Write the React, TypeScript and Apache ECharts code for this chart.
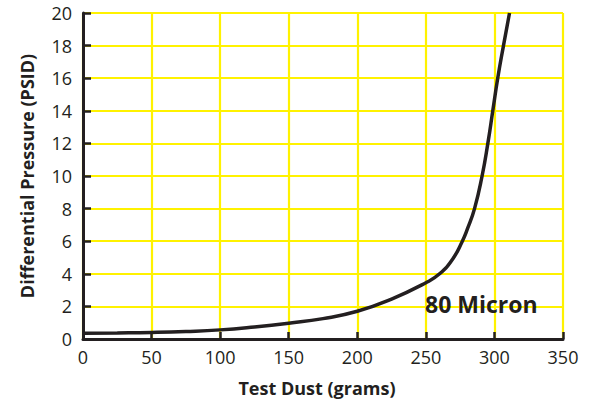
import React, { useEffect, useRef } from "react";
import * as echarts from "echarts";

const dustGrams = [0, 25, 50, 75, 100, 125, 150, 175, 200, 225, 250, 260, 269.5, 276.6, 280.3, 285.5, 291, 295.2, 298.8, 302.4, 306.6, 311];
const pressurePsid = [0.35, 0.37, 0.4, 0.46, 0.56, 0.74, 0.97, 1.25, 1.7, 2.45, 3.45, 4.0, 4.9, 6.0, 6.75, 8.0, 10.0, 12.0, 14.0, 16.0, 18.0, 20.0];
const seriesLabel = "80 Micron";
const xAxisTitle = "Test Dust (grams)";
const yAxisTitle = "Differential Pressure (PSID)";

const INK = "#231f20";
const GRID_YELLOW = "#fff200";
const FONT = "'Open Sans', 'Noto Sans', sans-serif";

export default function App() {
  const ref = useRef<HTMLDivElement>(null);

  useEffect(() => {
    if (!ref.current) return;
    const chart = echarts.init(ref.current, undefined, { renderer: "svg" });
    const points = dustGrams.map((x, i) => [x, pressurePsid[i]]);
    chart.setOption({
      animation: false,
      backgroundColor: "#ffffff",
      grid: { left: 83, right: 27, top: 13, bottom: 62, containLabel: false },
      xAxis: {
        type: "value",
        min: 0,
        max: 350,
        interval: 50,
        name: xAxisTitle,
        nameLocation: "middle",
        nameGap: 40,
        nameTextStyle: { color: INK, fontFamily: FONT, fontWeight: "bold", fontSize: 18, padding: [0, 12, 0, 0] },
        axisLine: { show: true, onZero: false, lineStyle: { color: INK, width: 3 } },
        axisTick: { show: true, inside: true, length: 7, lineStyle: { color: INK, width: 2.5 } },
        axisLabel: { color: INK, fontFamily: FONT, fontSize: 18, margin: 9 },
        splitLine: { show: true, lineStyle: { color: GRID_YELLOW, width: 2.2 } },
      },
      yAxis: {
        type: "value",
        min: 0,
        max: 20,
        interval: 2,
        name: yAxisTitle,
        nameLocation: "middle",
        nameGap: 47,
        nameRotate: 90,
        nameTextStyle: { color: INK, fontFamily: FONT, fontWeight: "bold", fontSize: 18 },
        axisLine: { show: true, lineStyle: { color: INK, width: 3 } },
        axisTick: { show: true, inside: true, length: 8, lineStyle: { color: INK, width: 2.5 } },
        axisLabel: { color: INK, fontFamily: FONT, fontSize: 18, margin: 11 },
        splitLine: { show: true, lineStyle: { color: GRID_YELLOW, width: 2.2 } },
      },
      series: [
        {
          type: "line",
          name: seriesLabel,
          data: points,
          smooth: 0.5,
          showSymbol: false,
          symbol: "none",
          lineStyle: { color: INK, width: 3.5 },
          z: 5,
        },
      ],
      graphic: [
        {
          type: "text",
          left: 425,
          top: 292,
          z: 10,
          style: {
            text: seriesLabel,
            fill: INK,
            font: `bold 23px ${FONT}`,
          },
        },
      ],
    });
    return () => chart.dispose();
  }, []);

  return (
    <div
      ref={ref}
      style={{ position: "absolute", left: 0, top: 0, width: 590, height: 402 }}
    />
  );
}
